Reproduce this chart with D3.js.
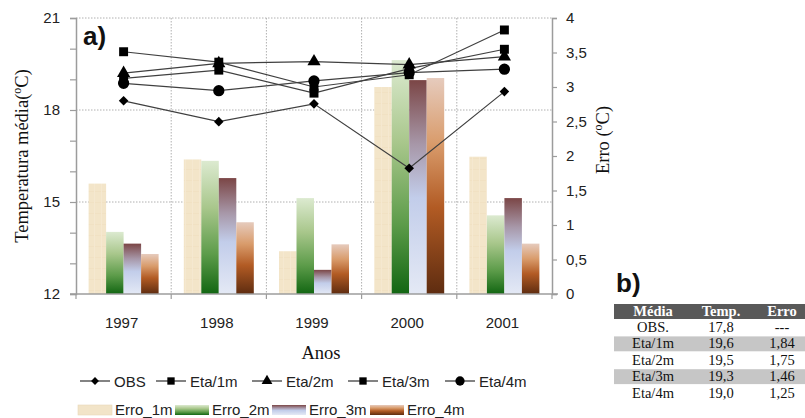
<!DOCTYPE html>
<html>
<head>
<meta charset="utf-8">
<script src="https://cdn.jsdelivr.net/npm/d3@7"></script>
<style>
  html, body { margin: 0; padding: 0; background: #ffffff; }
  svg { display: block; }
</style>
</head>
<body>
<svg id="chart" width="805" height="418"></svg>
<script>
// ---------------- DATA ----------------
const years = ["1997", "1998", "1999", "2000", "2001"];

// Temperature series (left axis, °C)
const obs   = [18.30, 17.62, 18.20, 16.10, 18.60];
const eta1m = [19.90, 19.56, 18.75, 19.15, 20.61];
const eta2m = [19.20, 19.52, 19.58, 19.48, 19.74];
const eta3m = [19.03, 19.30, 18.55, 19.35, 19.98];
const eta4m = [18.87, 18.63, 18.95, 19.22, 19.33];

// Error bars (right axis, °C)
const erro1m = [1.60, 1.95, 0.62, 3.00, 1.99];
const erro2m = [0.90, 1.93, 1.39, 3.39, 1.14];
const erro3m = [0.73, 1.68, 0.35, 3.10, 1.39];
const erro4m = [0.58, 1.04, 0.72, 3.13, 0.73];

const lineNames = ["OBS", "Eta/1m", "Eta/2m", "Eta/3m", "Eta/4m"];
const barNames  = ["Erro_1m", "Erro_2m", "Erro_3m", "Erro_4m"];

const leftTicks  = [12, 13, 14, 15, 16, 17, 18, 19, 20, 21];
const leftLabels = [12, 15, 18, 21];
const rightTicks = [0, 0.5, 1, 1.5, 2, 2.5, 3, 3.5, 4];

// Table b)
const tableHeader = ["Média", "Temp.", "Erro"];
const tableRows   = ["OBS.", "Eta/1m", "Eta/2m", "Eta/3m", "Eta/4m"];
const tableTemp   = ["17,8", "19,6", "19,5", "19,3", "19,0"];
const tableErro   = ["---", "1,84", "1,75", "1,46", "1,25"];

// ---------------- LAYOUT ----------------
const svg = d3.select("#chart");
const L = 76, R = 552, T = 18, B = 294;
const sans = "'Liberation Sans', Arial, sans-serif";
const serif = "'Liberation Serif', 'Times New Roman', serif";

const x = d3.scaleBand().domain(years).range([L, R]).paddingInner(0).paddingOuter(0);
const x1 = d3.scaleBand().domain(barNames).range([0, x.bandwidth()]).paddingInner(0).paddingOuter(0.72);
const yL = d3.scaleLinear().domain([12, 21]).range([B, T]);
const yR = d3.scaleLinear().domain([0, 4]).range([B, T]);

// ---------------- GRADIENTS ----------------
const defs = svg.append("defs");
const grads = {
  "Erro_1m": [[0, "#f4e6cb"], [1, "#f1e2c3"]],
  "Erro_2m": [[0, "#dcead0"], [0.35, "#a9c78c"], [0.7, "#5d9c4a"], [1, "#126612"]],
  "Erro_3m": [[0, "#7b4646"], [0.3, "#a797a8"], [0.55, "#c2cdea"], [1, "#e4e9f5"]],
  "Erro_4m": [[0, "#e6cbbd"], [0.3, "#d99c6c"], [0.6, "#b25b24"], [1, "#5e2c10"]]
};
barNames.forEach((n, i) => {
  const g = defs.append("linearGradient").attr("id", "g" + i)
    .attr("x1", 0).attr("y1", 0).attr("x2", 0).attr("y2", 1);
  grads[n].forEach(s => g.append("stop").attr("offset", s[0]).attr("stop-color", s[1]));
});
// subtle texture for Erro_1m
const pat = defs.append("pattern").attr("id", "tex").attr("width", 7).attr("height", 11)
  .attr("patternUnits", "userSpaceOnUse");
pat.append("rect").attr("width", 7).attr("height", 11).attr("fill", "#f3e5c9");
pat.append("rect").attr("x", 0).attr("y", 4).attr("width", 7).attr("height", 1).attr("fill", "#f1e1c3");
pat.append("rect").attr("x", 3).attr("y", 0).attr("width", 1).attr("height", 11).attr("fill", "#f5e8d0");

const fills = ["url(#tex)", "url(#g1)", "url(#g2)", "url(#g3)"];

// ---------------- GRID ----------------
const grid = svg.append("g").attr("stroke", "#b0b0b0").attr("stroke-width", 1).attr("stroke-dasharray", "1.5,1.5");
leftLabels.filter(v => v > 12).forEach(v => {
  grid.append("line").attr("x1", L).attr("x2", R).attr("y1", yL(v)).attr("y2", yL(v));
});
years.slice(1).forEach(yv => {
  grid.append("line").attr("x1", x(yv)).attr("x2", x(yv)).attr("y1", T).attr("y2", B);
});

// ---------------- BARS ----------------
const barSeries = [erro1m, erro2m, erro3m, erro4m];
const barG = svg.append("g");
years.forEach((yr, i) => {
  barNames.forEach((n, j) => {
    const v = barSeries[j][i];
    barG.append("rect")
      .attr("x", x(yr) + x1(n))
      .attr("y", yR(v))
      .attr("width", x1.bandwidth())
      .attr("height", yR(0) - yR(v))
      .attr("fill", fills[j]);
  });
});

// ---------------- AXES ----------------
const axisColor = "#9c9c9c";
const gL = svg.append("g").attr("transform", `translate(${L},0)`)
  .call(d3.axisLeft(yL).tickValues(leftTicks).tickSize(6).tickPadding(10)
    .tickFormat(d => leftLabels.includes(d) ? d : ""));
const gR = svg.append("g").attr("transform", `translate(${R},0)`)
  .call(d3.axisRight(yR).tickValues(rightTicks).tickSize(5).tickPadding(9)
    .tickFormat(d => String(d).replace(".", ",")));
[gL, gR].forEach(g => {
  g.select(".domain").attr("stroke", axisColor).attr("stroke-width", 1.5);
  g.selectAll(".tick line").attr("stroke", axisColor).attr("stroke-width", 1.2);
  g.selectAll("text").attr("font-family", sans).attr("font-size", 15).attr("fill", "#222");
});

// bottom axis
const gB = svg.append("g");
gB.append("line").attr("x1", L - 6).attr("x2", R + 6).attr("y1", B).attr("y2", B)
  .attr("stroke", axisColor).attr("stroke-width", 1.5);
const bounds = years.map(yv => x(yv)).concat([R]);
gB.selectAll("line.bt").data(bounds).join("line").attr("class", "bt")
  .attr("x1", d => d).attr("x2", d => d).attr("y1", B).attr("y2", B + 5)
  .attr("stroke", axisColor).attr("stroke-width", 1.2);
gB.selectAll("text").data(years).join("text")
  .attr("x", d => x(d) + x.bandwidth() / 2 - 2)
  .attr("y", 328)
  .attr("text-anchor", "middle")
  .attr("font-family", sans).attr("font-size", 15).attr("fill", "#222")
  .text(d => d);

// ---------------- LINES ----------------
const lineSeries = [obs, eta1m, eta2m, eta3m, eta4m];
const cx = yr => x(yr) + x.bandwidth() / 2;
const line = d3.line().x((d, i) => cx(years[i])).y(d => yL(d));
const lineG = svg.append("g");
lineSeries.forEach(s => {
  lineG.append("path").datum(s).attr("d", line)
    .attr("fill", "none").attr("stroke", "#404040").attr("stroke-width", 1.2);
});

function markerPath(k, big) {
  const f = big ? 1 : 0.82;
  if (k === 0) return d3.symbol(d3.symbolSquare, 46 * f * f)();     // diamond (rotated)
  if (k === 1 || k === 3) return d3.symbol(d3.symbolSquare, 80 * f * f)();
  if (k === 2) return d3.symbol(d3.symbolTriangle, 75 * f * f)();
  return d3.symbol(d3.symbolCircle, 100 * f * f)();
}
lineSeries.forEach((s, k) => {
  s.forEach((v, i) => {
    lineG.append("path")
      .attr("d", markerPath(k, true))
      .attr("transform", `translate(${cx(years[i])},${yL(v)})` + (k === 0 ? " rotate(45)" : ""))
      .attr("fill", "#000");
  });
});

// ---------------- TITLES ----------------
svg.append("text").attr("x", 83).attr("y", 45)
  .attr("font-family", sans).attr("font-weight", "bold").attr("font-size", 26).attr("fill", "#111")
  .text("a)");

const tl = svg.append("text")
  .attr("transform", "translate(28,156) rotate(-90)")
  .attr("text-anchor", "middle")
  .attr("font-family", serif).attr("font-size", 18.5).attr("fill", "#111");
tl.append("tspan").text("Temperatura média(");
tl.append("tspan").attr("dy", -7).attr("font-size", 12).text("o");
tl.append("tspan").attr("dy", 7).text("C)");

const tr = svg.append("text")
  .attr("transform", "translate(609,140) rotate(-90)")
  .attr("text-anchor", "middle")
  .attr("font-family", serif).attr("font-size", 18.5).attr("fill", "#111");
tr.append("tspan").text("Erro (");
tr.append("tspan").attr("dy", -7).attr("font-size", 12).text("o");
tr.append("tspan").attr("dy", 7).text("C)");

svg.append("text").attr("x", 321).attr("y", 359).attr("text-anchor", "middle")
  .attr("font-family", serif).attr("font-size", 18.5).attr("fill", "#111").text("Anos");

// ---------------- LEGEND ----------------
const lg1 = svg.append("g");
const lineLegX = [80, 156, 252, 348, 445];
lineNames.forEach((n, k) => {
  const lx = lineLegX[k], ly = 381;
  lg1.append("line").attr("x1", lx).attr("x2", lx + 30).attr("y1", ly).attr("y2", ly)
    .attr("stroke", "#404040").attr("stroke-width", 1.3);
  lg1.append("path").attr("d", markerPath(k, false))
    .attr("transform", `translate(${lx + 15},${ly})` + (k === 0 ? " rotate(45)" : ""))
    .attr("fill", "#000");
  lg1.append("text").attr("x", lx + 34).attr("y", ly + 5.5)
    .attr("font-family", sans).attr("font-size", 15).attr("fill", "#222").text(n);
});

const lg2 = svg.append("g");
const barLegX = [78, 175, 272, 370];
const legFills = ["#f2e4c8", "url(#g1)", "url(#g2)", "url(#g3)"];
barNames.forEach((n, j) => {
  const bx = barLegX[j], by = 405;
  lg2.append("rect").attr("x", bx).attr("y", by).attr("width", 34).attr("height", 10)
    .attr("fill", legFills[j]).attr("stroke", j === 0 ? "#e8d8b8" : "none").attr("stroke-width", 0.6);
  lg2.append("text").attr("x", bx + 37).attr("y", by + 10)
    .attr("font-family", sans).attr("font-size", 15).attr("fill", "#222").text(n);
});

// ---------------- TABLE b) ----------------
svg.append("text").attr("x", 616).attr("y", 292)
  .attr("font-family", sans).attr("font-weight", "bold").attr("font-size", 26).attr("fill", "#111")
  .text("b)");

const tx0 = 614, tx1 = 805, hy = 304, hh = 15, rh = 16.4;
const colX = [653, 721, 782];
const tb = svg.append("g");
tb.append("rect").attr("x", tx0).attr("y", hy).attr("width", tx1 - tx0).attr("height", hh).attr("fill", "#595959");
tableHeader.forEach((h, c) => {
  tb.append("text").attr("x", colX[c]).attr("y", hy + 12).attr("text-anchor", "middle")
    .attr("font-family", serif).attr("font-weight", "bold").attr("font-size", 14.5).attr("fill", "#fff").text(h);
});
tableRows.forEach((r, i) => {
  const ry = hy + hh + i * rh;
  if (i % 2 === 1) {
    tb.append("rect").attr("x", tx0).attr("y", ry + 1).attr("width", tx1 - tx0).attr("height", rh - 1.5).attr("fill", "#c6c6c6");
  }
  [r, tableTemp[i], tableErro[i]].forEach((t, c) => {
    tb.append("text").attr("x", colX[c]).attr("y", ry + 13).attr("text-anchor", "middle")
      .attr("font-family", serif).attr("font-size", 14.5).attr("fill", "#111").text(t);
  });
});
</script>
</body>
</html>
